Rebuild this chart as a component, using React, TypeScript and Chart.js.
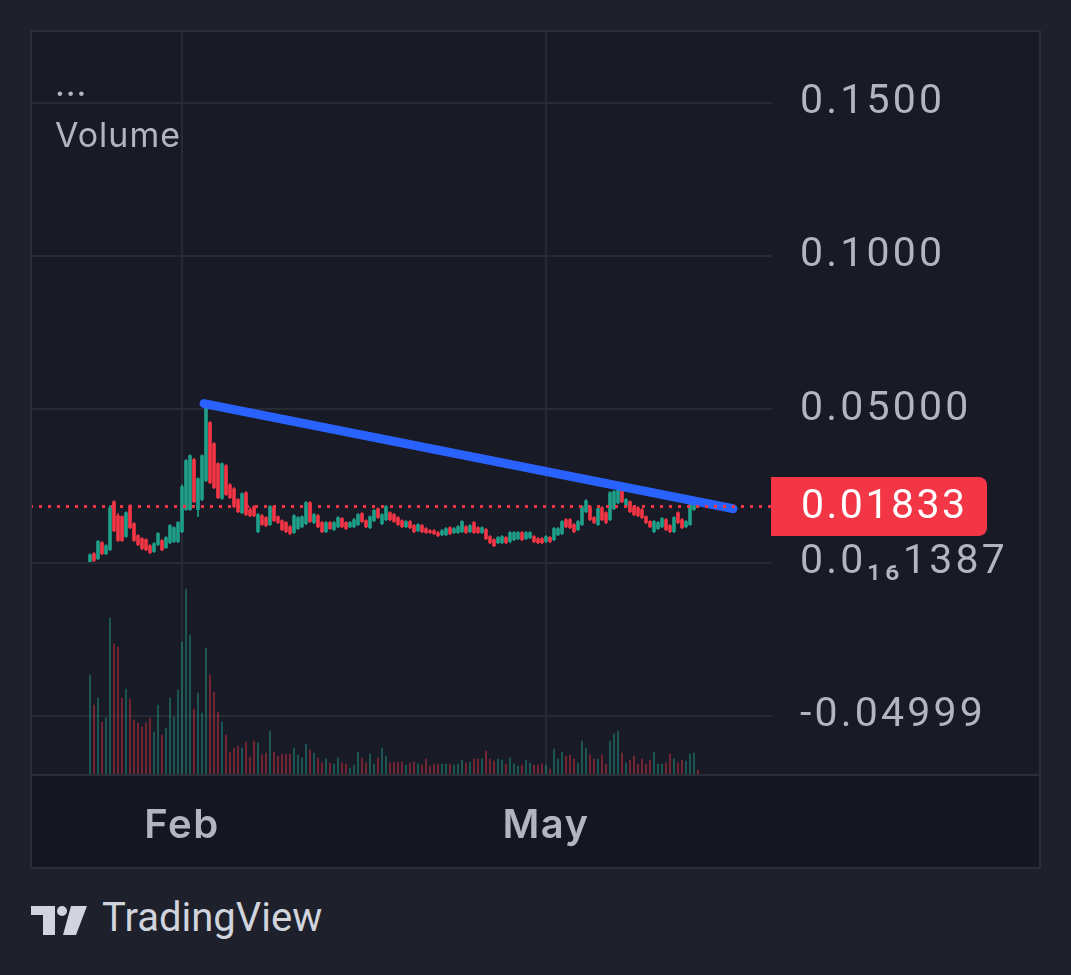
import React, { useEffect, useRef } from 'react';
import { Chart, registerables } from 'chart.js';

Chart.register(...registerables);

// ---- data (daily candles, index 0 = first session) ----
const opens = [
  0.0003, 0.0029, 0.0013, 0.0065, 0.0029, 0.0042, 0.0199, 0.0153, 0.0150, 0.0085,
  0.0186, 0.0127, 0.0088, 0.0078, 0.0075, 0.0055, 0.0036, 0.0059, 0.0072, 0.0049,
  0.0065, 0.0069, 0.0069, 0.0101, 0.0173, 0.0173, 0.0336, 0.0173, 0.0206, 0.0268,
  0.0457, 0.0388, 0.0323, 0.0209, 0.0316, 0.0254, 0.0241, 0.0206, 0.0163, 0.0228,
  0.0173, 0.0183, 0.0101, 0.0153, 0.0147, 0.0124, 0.0183, 0.0150, 0.0137, 0.0131,
  0.0117, 0.0098, 0.0111, 0.0117, 0.0127, 0.0196, 0.0131, 0.0153, 0.0131, 0.0101,
  0.0131, 0.0108, 0.0117, 0.0144, 0.0131, 0.0117, 0.0117, 0.0124, 0.0160, 0.0137,
  0.0114, 0.0137, 0.0176, 0.0127, 0.0140, 0.0163, 0.0157, 0.0147, 0.0137, 0.0117,
  0.0134, 0.0121, 0.0104, 0.0121, 0.0111, 0.0104, 0.0104, 0.0098, 0.0091, 0.0091,
  0.0114, 0.0098, 0.0098, 0.0101, 0.0117, 0.0101, 0.0131, 0.0114, 0.0098, 0.0108,
  0.0085, 0.0075, 0.0065, 0.0065, 0.0082, 0.0069, 0.0075, 0.0078, 0.0098, 0.0078,
  0.0082, 0.0085, 0.0078, 0.0078, 0.0069, 0.0082, 0.0075, 0.0091, 0.0095, 0.0140,
  0.0140, 0.0124, 0.0108, 0.0124, 0.0166, 0.0183, 0.0147, 0.0124, 0.0179, 0.0163,
  0.0140, 0.0176, 0.0196, 0.0238, 0.0183, 0.0199, 0.0183, 0.0179, 0.0173, 0.0150,
  0.0134, 0.0101, 0.0111, 0.0117, 0.0140, 0.0121, 0.0101, 0.0163, 0.0140, 0.0117,
  0.0124, 0.0173, 0.0196,
];
const highs = [
  0.0029, 0.0033, 0.0072, 0.0069, 0.0059, 0.0186, 0.0202, 0.0160, 0.0153, 0.0166,
  0.0189, 0.0131, 0.0091, 0.0082, 0.0078, 0.0059, 0.0065, 0.0098, 0.0075, 0.0085,
  0.0124, 0.0117, 0.0134, 0.0254, 0.0336, 0.0352, 0.0340, 0.0277, 0.0352, 0.0516,
  0.0460, 0.0392, 0.0326, 0.0326, 0.0320, 0.0258, 0.0245, 0.0209, 0.0228, 0.0232,
  0.0179, 0.0186, 0.0160, 0.0157, 0.0150, 0.0186, 0.0186, 0.0153, 0.0140, 0.0134,
  0.0121, 0.0157, 0.0150, 0.0153, 0.0199, 0.0199, 0.0160, 0.0157, 0.0134, 0.0134,
  0.0134, 0.0134, 0.0150, 0.0147, 0.0134, 0.0134, 0.0144, 0.0160, 0.0163, 0.0140,
  0.0153, 0.0173, 0.0179, 0.0160, 0.0186, 0.0166, 0.0160, 0.0150, 0.0140, 0.0137,
  0.0137, 0.0124, 0.0127, 0.0124, 0.0114, 0.0108, 0.0108, 0.0101, 0.0108, 0.0114,
  0.0117, 0.0114, 0.0121, 0.0137, 0.0121, 0.0124, 0.0134, 0.0117, 0.0117, 0.0111,
  0.0088, 0.0078, 0.0085, 0.0088, 0.0085, 0.0101, 0.0101, 0.0101, 0.0101, 0.0101,
  0.0101, 0.0088, 0.0082, 0.0082, 0.0088, 0.0085, 0.0114, 0.0114, 0.0137, 0.0144,
  0.0144, 0.0127, 0.0137, 0.0186, 0.0206, 0.0186, 0.0150, 0.0179, 0.0183, 0.0166,
  0.0232, 0.0235, 0.0261, 0.0241, 0.0209, 0.0202, 0.0186, 0.0183, 0.0176, 0.0153,
  0.0137, 0.0137, 0.0134, 0.0147, 0.0144, 0.0124, 0.0150, 0.0166, 0.0144, 0.0137,
  0.0192, 0.0199, 0.0199,
];
const lows = [
  0.0000, 0.0003, 0.0010, 0.0026, 0.0026, 0.0039, 0.0101, 0.0069, 0.0069, 0.0082,
  0.0111, 0.0069, 0.0055, 0.0042, 0.0039, 0.0029, 0.0033, 0.0055, 0.0039, 0.0046,
  0.0062, 0.0065, 0.0065, 0.0098, 0.0170, 0.0170, 0.0196, 0.0150, 0.0202, 0.0264,
  0.0258, 0.0241, 0.0209, 0.0206, 0.0219, 0.0209, 0.0179, 0.0163, 0.0160, 0.0153,
  0.0150, 0.0150, 0.0098, 0.0121, 0.0117, 0.0121, 0.0134, 0.0127, 0.0104, 0.0098,
  0.0091, 0.0095, 0.0108, 0.0114, 0.0124, 0.0131, 0.0127, 0.0114, 0.0098, 0.0098,
  0.0108, 0.0104, 0.0114, 0.0114, 0.0108, 0.0114, 0.0114, 0.0121, 0.0131, 0.0114,
  0.0111, 0.0134, 0.0144, 0.0124, 0.0137, 0.0137, 0.0131, 0.0121, 0.0114, 0.0114,
  0.0111, 0.0098, 0.0101, 0.0098, 0.0095, 0.0095, 0.0091, 0.0085, 0.0088, 0.0088,
  0.0091, 0.0095, 0.0095, 0.0098, 0.0095, 0.0098, 0.0095, 0.0095, 0.0095, 0.0075,
  0.0062, 0.0052, 0.0062, 0.0062, 0.0062, 0.0065, 0.0072, 0.0075, 0.0072, 0.0075,
  0.0078, 0.0065, 0.0062, 0.0062, 0.0065, 0.0065, 0.0072, 0.0088, 0.0091, 0.0114,
  0.0111, 0.0098, 0.0104, 0.0121, 0.0163, 0.0137, 0.0127, 0.0121, 0.0137, 0.0127,
  0.0137, 0.0173, 0.0192, 0.0196, 0.0179, 0.0163, 0.0153, 0.0150, 0.0144, 0.0127,
  0.0114, 0.0098, 0.0108, 0.0114, 0.0104, 0.0098, 0.0098, 0.0127, 0.0111, 0.0114,
  0.0121, 0.0170, 0.0179,
];
const closes = [
  0.0026, 0.0007, 0.0069, 0.0029, 0.0055, 0.0179, 0.0104, 0.0072, 0.0072, 0.0163,
  0.0114, 0.0072, 0.0059, 0.0046, 0.0042, 0.0033, 0.0062, 0.0095, 0.0042, 0.0082,
  0.0121, 0.0114, 0.0131, 0.0248, 0.0333, 0.0349, 0.0199, 0.0274, 0.0349, 0.0509,
  0.0261, 0.0245, 0.0212, 0.0323, 0.0222, 0.0212, 0.0183, 0.0166, 0.0225, 0.0157,
  0.0153, 0.0153, 0.0157, 0.0124, 0.0121, 0.0183, 0.0137, 0.0131, 0.0108, 0.0101,
  0.0095, 0.0153, 0.0147, 0.0150, 0.0196, 0.0134, 0.0157, 0.0117, 0.0101, 0.0131,
  0.0111, 0.0131, 0.0147, 0.0117, 0.0111, 0.0131, 0.0140, 0.0157, 0.0134, 0.0117,
  0.0150, 0.0170, 0.0147, 0.0157, 0.0183, 0.0140, 0.0134, 0.0124, 0.0117, 0.0134,
  0.0114, 0.0101, 0.0124, 0.0101, 0.0098, 0.0098, 0.0095, 0.0088, 0.0104, 0.0111,
  0.0095, 0.0111, 0.0117, 0.0134, 0.0098, 0.0121, 0.0098, 0.0098, 0.0114, 0.0078,
  0.0065, 0.0055, 0.0082, 0.0085, 0.0065, 0.0098, 0.0098, 0.0098, 0.0075, 0.0098,
  0.0098, 0.0069, 0.0065, 0.0065, 0.0085, 0.0069, 0.0111, 0.0111, 0.0134, 0.0117,
  0.0114, 0.0101, 0.0134, 0.0183, 0.0202, 0.0140, 0.0131, 0.0176, 0.0140, 0.0131,
  0.0228, 0.0232, 0.0254, 0.0199, 0.0206, 0.0166, 0.0157, 0.0153, 0.0147, 0.0131,
  0.0117, 0.0134, 0.0131, 0.0144, 0.0108, 0.0101, 0.0147, 0.0131, 0.0114, 0.0134,
  0.0189, 0.0196, 0.0183,
];
const volumes = [
  100, 70, 77, 53, 57, 157, 131, 128, 77, 86,
  76, 55, 52, 48, 52, 57, 43, 70, 40, 47,
  77, 58, 85, 133, 186, 140, 66, 82, 62, 127,
  100, 83, 63, 53, 40, 23, 27, 29, 27, 33,
  18, 34, 32, 20, 22, 44, 23, 19, 21, 21,
  21, 27, 20, 17, 31, 25, 22, 17, 12, 16,
  12, 11, 17, 12, 11, 7, 10, 23, 17, 12,
  21, 11, 17, 27, 19, 12, 13, 13, 13, 10,
  12, 13, 11, 10, 16, 9, 11, 11, 11, 11,
  11, 10, 11, 15, 12, 13, 16, 16, 16, 24,
  16, 14, 16, 15, 11, 17, 11, 9, 10, 15,
  12, 10, 10, 11, 10, 6, 26, 16, 23, 19,
  20, 16, 12, 34, 27, 20, 16, 16, 20, 11,
  34, 41, 44, 22, 12, 15, 19, 11, 16, 11,
  15, 23, 11, 11, 12, 21, 16, 12, 15, 14,
  21, 22, 5,
];
const monthLabels = ['Feb', 'May'];
const monthTickIndex = [23, 114];
const priceTicks = [-0.05, 0, 0.05, 0.1, 0.15];
const priceTickLabels = ['-0.04999', '0.0\u2081\u20861387', '0.05000', '0.1000', '0.1500'];
const lastPrice = 0.01833;
const lastPriceLabel = '0.01833';
const trendX = [28.5, 160.75];
const trendY = [0.0519, 0.0176];

// ---- styles ----
const GREEN = '#1f9e89';
const RED = '#f23645';
const VOL_GREEN = 'rgba(31,158,137,0.55)';
const VOL_RED = 'rgba(242,54,69,0.5)';
const PAGE_BG = '#1e212b';
const CHART_BG = '#181b25';
const TIME_BG = '#141720';
const GRID = '#262a35';
const BORDER = '#2a2e39';
const TEXT = '#b2b5be';
const PRICE_FONT = 'Roboto';
const PRICE_SIZE = 41;
const PRICE_SPACING = '3.2px';

function patchLabelSpacing(scale: any, spacing: string) {
  if (!scale || scale.__spaced) return;
  const orig = scale.drawLabels;
  scale.drawLabels = function (area: any) {
    const ctx = this.ctx;
    ctx.save();
    ctx.letterSpacing = spacing;
    orig.call(this, area);
    ctx.restore();
  };
  scale.__spaced = true;
}

const framePlugin = {
  id: 'frame',
  afterLayout(chart: any) {
    patchLabelSpacing(chart.scales.y, PRICE_SPACING);
    patchLabelSpacing(chart.scales.x, '1.5px');
  },
  beforeDraw(chart: any) {
    const { ctx, width, height, chartArea } = chart;
    ctx.save();
    ctx.fillStyle = CHART_BG;
    ctx.fillRect(0, 0, width, height);
    ctx.fillStyle = TIME_BG;
    ctx.fillRect(0, chartArea.bottom, width, height - chartArea.bottom);
    ctx.restore();
  },
  afterDatasetsDraw(chart: any) {
    const { ctx, chartArea, scales } = chart;
    const y = scales.y.getPixelForValue(lastPrice);
    ctx.save();
    ctx.strokeStyle = RED;
    ctx.lineWidth = 3;
    ctx.setLineDash([3, 6]);
    ctx.beginPath();
    ctx.moveTo(chartArea.left, y);
    ctx.lineTo(chartArea.right, y);
    ctx.stroke();
    ctx.setLineDash([]);
    const bx = chartArea.right - 1;
    const bw = 216;
    const bh = 59;
    ctx.fillStyle = RED;
    ctx.beginPath();
    ctx.roundRect(bx, y - bh / 2, bw, bh, [0, 8, 8, 0]);
    ctx.fill();
    ctx.fillStyle = '#ffffff';
    ctx.font = `${PRICE_SIZE}px ${PRICE_FONT}`;
    ctx.letterSpacing = '2.5px';
    ctx.textBaseline = 'middle';
    ctx.textAlign = 'left';
    ctx.fillText(lastPriceLabel, chartArea.right + 29, y + 1);
    ctx.restore();
  },
  afterDraw(chart: any) {
    const { ctx, width, height, chartArea } = chart;
    ctx.save();
    ctx.fillStyle = BORDER;
    ctx.fillRect(0, chartArea.bottom - 1, width, 2);
    ctx.strokeStyle = BORDER;
    ctx.lineWidth = 2;
    ctx.strokeRect(1, 1, width - 2, height - 2);
    ctx.fillStyle = TEXT;
    ctx.font = '34px Inter';
    ctx.letterSpacing = '1px';
    ctx.textBaseline = 'alphabetic';
    ctx.textAlign = 'left';
    ctx.fillText('...', 25, 66);
    ctx.fillText('Volume', 25, 117);
    ctx.restore();
  },
};

export default function App() {
  const ref = useRef<HTMLCanvasElement>(null);
  useEffect(() => {
    const idx = closes.map((_, i) => i);
    const up = idx.map((i) => closes[i] >= opens[i]);
    const chart = new Chart(ref.current as HTMLCanvasElement, {
      type: 'bar',
      data: {
        datasets: [
          {
            type: 'line',
            data: trendX.map((x, i) => ({ x, y: trendY[i] })),
            borderColor: '#2962ff',
            borderWidth: 9,
            borderCapStyle: 'round',
            pointRadius: 0,
            order: 0,
            yAxisID: 'y',
          } as any,
          {
            type: 'bar',
            data: idx.map((i) => ({ x: i, y: [opens[i], closes[i]] })),
            backgroundColor: idx.map((i) => (up[i] ? GREEN : RED)),
            barThickness: 3,
            grouped: false,
            order: 1,
            yAxisID: 'y',
          } as any,
          {
            type: 'bar',
            data: idx.map((i) => ({ x: i, y: [lows[i], highs[i]] })),
            backgroundColor: idx.map((i) => (up[i] ? GREEN : RED)),
            barThickness: 1,
            grouped: false,
            order: 2,
            yAxisID: 'y',
          } as any,
          {
            type: 'bar',
            data: idx.map((i) => ({ x: i, y: volumes[i] })),
            backgroundColor: idx.map((i) => (up[i] ? VOL_GREEN : VOL_RED)),
            barThickness: 1,
            grouped: false,
            order: 3,
            yAxisID: 'yv',
          } as any,
        ],
      },
      options: {
        responsive: false,
        maintainAspectRatio: false,
        animation: false,
        events: [],
        layout: { padding: 0 },
        plugins: { legend: { display: false }, tooltip: { enabled: false } },
        scales: {
          x: {
            type: 'linear',
            min: -15,
            max: 170.5,
            offset: false,
            afterBuildTicks: (s: any) => {
              s.ticks = monthTickIndex.map((v) => ({ value: v }));
            },
            afterFit: (s: any) => {
              s.height = 94;
              s.paddingLeft = 0;
              s.paddingRight = 0;
            },
            grid: { color: GRID, lineWidth: 2, drawTicks: false, offset: false },
            border: { display: false },
            ticks: {
              autoSkip: false,
              maxRotation: 0,
              padding: 27,
              color: TEXT,
              font: { family: 'Inter', size: 40, weight: '600' },
              callback: (_v: any, i: number) => monthLabels[i],
            },
          },
          y: {
            type: 'linear',
            position: 'right',
            min: -0.0693,
            max: 0.1738,
            afterBuildTicks: (s: any) => {
              s.ticks = priceTicks.map((v) => ({ value: v }));
            },
            afterFit: (s: any) => {
              s.width = 269;
              s.paddingTop = 0;
              s.paddingBottom = 0;
            },
            grid: { color: GRID, lineWidth: 2, drawTicks: false },
            border: { display: false },
            ticks: {
              autoSkip: false,
              padding: 28,
              color: TEXT,
              font: { family: PRICE_FONT, size: PRICE_SIZE },
              callback: (_v: any, i: number) => priceTickLabels[i],
            },
          },
          yv: { type: 'linear', display: false, min: 0, max: 745 },
        },
      } as any,
      plugins: [framePlugin as any],
    });
    return () => chart.destroy();
  }, []);

  return (
    <div style={{ position: 'fixed', left: 0, top: 0, width: 1071, height: 975, background: PAGE_BG }}>
      <canvas
        ref={ref}
        width={1011}
        height={839}
        style={{ position: 'absolute', left: 30, top: 30, width: 1011, height: 839 }}
      />
      <svg
        width={60}
        height={32}
        viewBox="0 0 60 32"
        style={{ position: 'absolute', left: 30, top: 905 }}
      >
        <path d="M1 1 H25 V30 H13 V10 H1 Z" fill="#d1d4dc" />
        <circle cx={32} cy={6} r={5} fill="#d1d4dc" />
        <path d="M41 1 H57 L46 30 H33 Z" fill="#d1d4dc" />
      </svg>
      <div
        style={{
          position: 'absolute',
          left: 102,
          top: 898,
          fontFamily: 'Roboto',
          fontSize: 40,
          lineHeight: '40px',
          color: '#d1d4dc',
          whiteSpace: 'nowrap',
        }}
      >
        TradingView
      </div>
    </div>
  );
}
